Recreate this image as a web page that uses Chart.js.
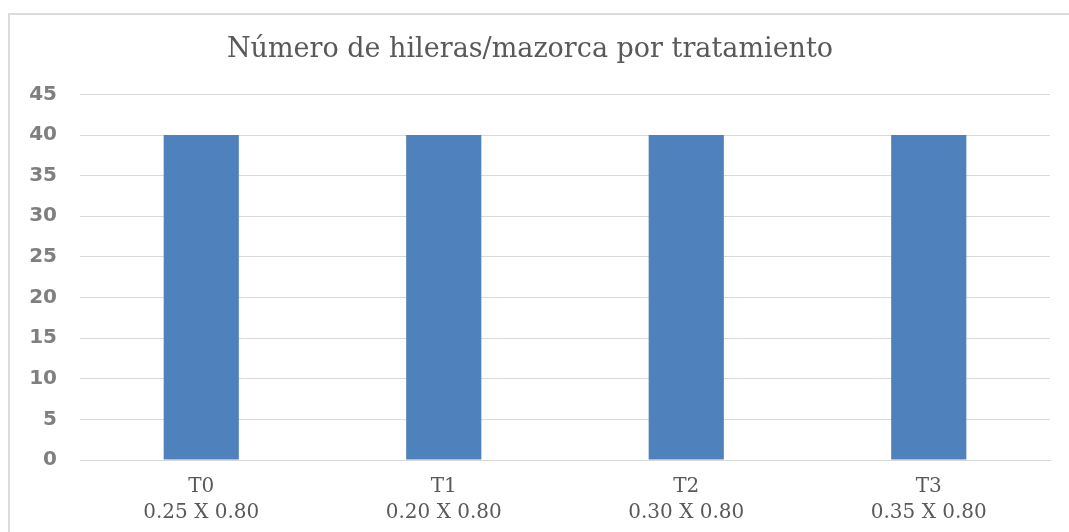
<!DOCTYPE html>
<html>
<head>
<meta charset="utf-8">
<script src="https://cdn.jsdelivr.net/npm/chart.js@4.4.1/dist/chart.umd.min.js"></script>
<style>
  html, body { margin: 0; padding: 0; background: #ffffff; overflow: hidden; }
  #wrap { position: relative; width: 1069px; height: 532px; }
  #frame { position: absolute; left: 8px; top: 13px; width: 1080px; height: 540px; border: 2px solid #dcdcdc; box-sizing: border-box; pointer-events: none; }
  canvas { position: absolute; left: 0; top: 0; }
</style>
</head>
<body>
<div id="wrap">
  <canvas id="c" width="1069" height="532"></canvas>
  <div id="frame"></div>
</div>
<script>
const titleText = "Número de hileras/mazorca por tratamiento";
const categories = [["T0", "0.25 X 0.80"], ["T1", "0.20 X 0.80"], ["T2", "0.30 X 0.80"], ["T3", "0.35 X 0.80"]];
const values = [40, 40, 40, 40];
const yMin = 0, yMax = 45, yStep = 5;

new Chart(document.getElementById('c'), {
  type: 'bar',
  data: {
    labels: categories,
    datasets: [{
      data: values,
      backgroundColor: '#4F81BD',
      borderWidth: 0,
      categoryPercentage: 1.0,
      barPercentage: 0.31
    }]
  },
  options: {
    responsive: false,
    animation: false,
    layout: { padding: { left: 10, right: 19, top: 0, bottom: 0 } },
    plugins: {
      legend: { display: false },
      tooltip: { enabled: false },
      title: {
        display: true,
        text: titleText,
        color: '#595959',
        font: { family: 'DejaVu Serif', size: 27, weight: 'normal', lineHeight: 1.2 },
        padding: { top: 34, bottom: 28 }
      }
    },
    scales: {
      x: {
        grid: { display: false, drawTicks: false },
        border: { display: true, color: '#d9d9d9', width: 1 },
        ticks: {
          color: '#595959',
          font: { family: 'DejaVu Serif', size: 20, lineHeight: 1.3 },
          padding: 14,
          maxRotation: 0
        },
        afterFit: (s) => { s.height = 72; }
      },
      y: {
        min: yMin, max: yMax,
        grid: { color: '#d9d9d9', lineWidth: 1, drawTicks: false },
        border: { display: false },
        ticks: {
          stepSize: yStep,
          color: '#7f7f7f',
          font: { family: 'DejaVu Sans', size: 20, weight: 'bold' },
          padding: 23
        },
        afterFit: (s) => { s.width = 70; }
      }
    }
  }
});
</script>
</body>
</html>
